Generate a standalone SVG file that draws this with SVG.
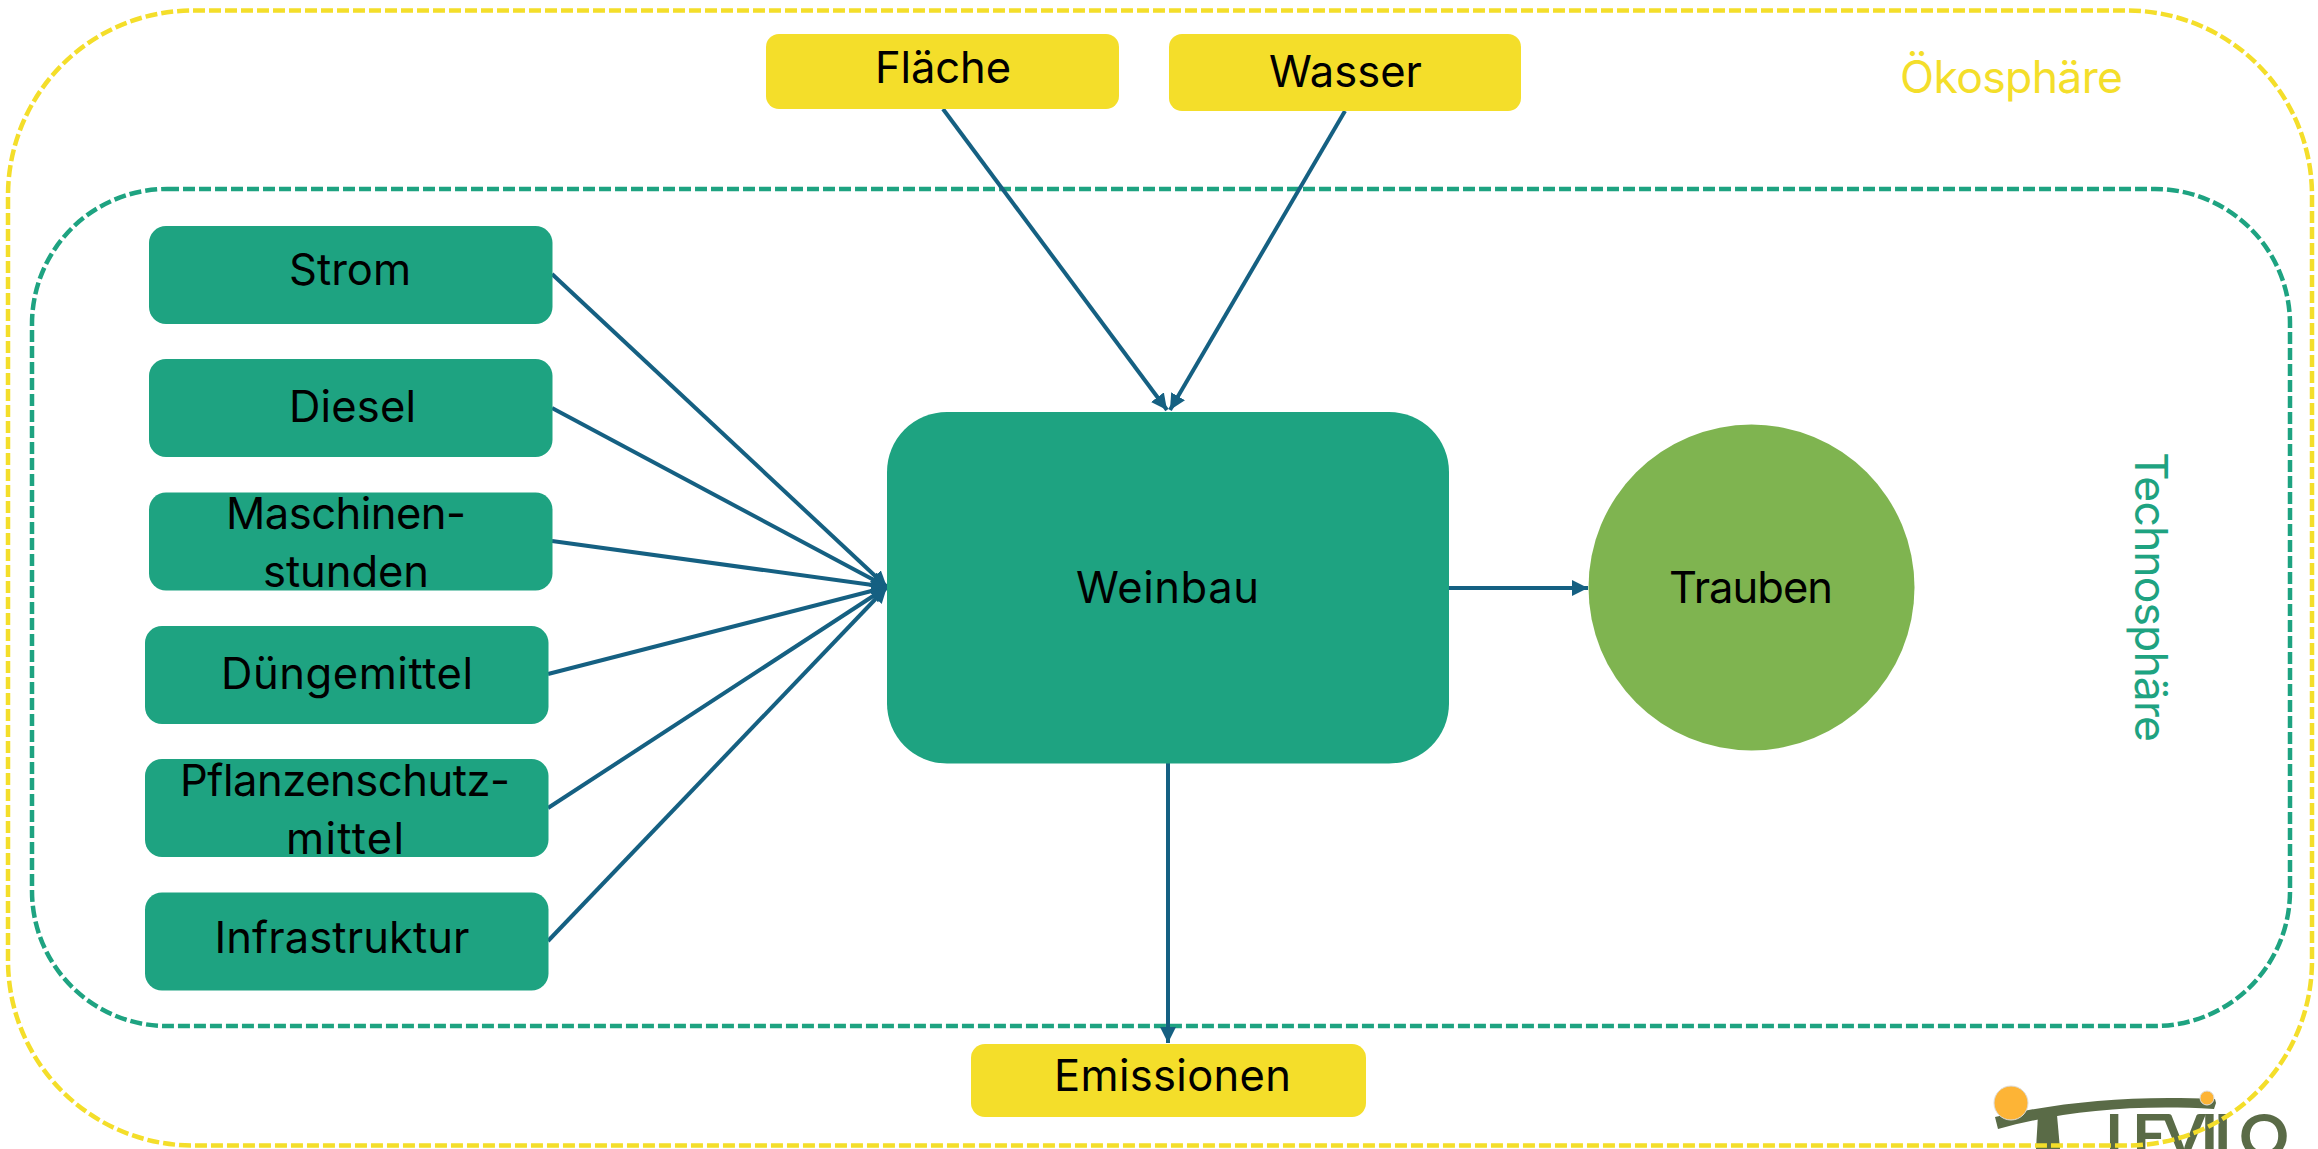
<svg xmlns="http://www.w3.org/2000/svg" width="2318" height="1149" viewBox="0 0 2318 1149">
<style>
text{font-family:"Inter","Liberation Sans",sans-serif;font-size:43.500px;fill:#000;text-anchor:middle}
.g{fill:#1ea381}.y{fill:#f4de2a}
.c{stroke:#156082;stroke-width:4;fill:none}
.b{fill:none;stroke-width:4.500;stroke-dasharray:12 4}
.l{fill:#5a6b47}
</style>
<defs><marker id="a" markerUnits="userSpaceOnUse" markerWidth="18" markerHeight="18" refX="16" refY="8" orient="auto"><path d="M0 0L16 8L0 16Z" fill="#156082"/></marker></defs>
<rect width="2318" height="1149" fill="#fff"/>
<g id="logo"><path class="l" d="M1995 1117C2060 1102 2130 1095 2215 1099L2216 1103L2214 1109C2130 1104 2060 1112 1998 1129Z"/><path class="l" d="M2038 1115L2057 1115L2060 1149L2036 1149Z"/><circle cx="2011" cy="1103" r="17" fill="#fdb436" stroke="#ddd"/><circle cx="2207" cy="1098" r="7" fill="#fdb436" stroke="#ddd"/><text x="2105" y="1157.500" textLength="184" style="font-family:Lato,sans-serif;font-weight:700;font-size:62px;fill:#5a6b47;text-anchor:start">LEVILO</text></g>
<g id="oekosphaere"><rect class="b" x="8" y="10.500" width="2304" height="1135" rx="185" stroke="#f4de2a"/><text x="2011.500" y="93" textLength="223" style="fill:#f4de2a;font-size:44.500px">Ökosphäre</text></g>
<g id="technosphaere"><rect class="b" x="32" y="189" width="2258" height="837" rx="135" stroke="#1ea381"/><text transform="translate(2135 597) rotate(90)" textLength="290" style="fill:#1ea381;font-size:44.500px">Technosphäre</text></g>
<g id="connectors">
<path class="c" marker-end="url(#a)" d="M943 109L1167 410"/>
<path class="c" marker-end="url(#a)" d="M1345 111L1170 410"/>
<path class="c" marker-end="url(#a)" d="M552 274L887 587"/>
<path class="c" marker-end="url(#a)" d="M552 408L887 587"/>
<path class="c" marker-end="url(#a)" d="M552 541L887 587"/>
<path class="c" marker-end="url(#a)" d="M548 674L887 587"/>
<path class="c" marker-end="url(#a)" d="M548 808L887 587"/>
<path class="c" marker-end="url(#a)" d="M548 941L887 587"/>
<path class="c" marker-end="url(#a)" d="M1449 588L1588 588"/>
<path class="c" marker-end="url(#a)" d="M1168 763L1168 1043"/>
</g>
<g id="flaeche"><rect class="y" x="766" y="34" width="353" height="75" rx="13"/><text x="943" y="82.500" textLength="136">Fläche</text></g>
<g id="wasser"><rect class="y" x="1169" y="34" width="352" height="77" rx="13"/><text x="1345.500" y="87" textLength="153">Wasser</text></g>
<g id="strom"><rect class="g" x="149" y="226" width="403.500" height="98" rx="17"/><text x="350" y="285" textLength="122">Strom</text></g>
<g id="diesel"><rect class="g" x="149" y="359" width="403.500" height="98" rx="17"/><text x="352.500" y="422" textLength="127">Diesel</text></g>
<g id="maschinen"><rect class="g" x="149" y="492.500" width="403.500" height="98" rx="17"/><text x="346" y="529" textLength="240">Maschinen-</text><text x="346" y="586.500" textLength="166">stunden</text></g>
<g id="duenge"><rect class="g" x="145" y="626" width="403.500" height="98" rx="17"/><text x="347" y="689" textLength="252">Düngemittel</text></g>
<g id="pflanzen"><rect class="g" x="145" y="759" width="403.500" height="98" rx="17"/><text x="345" y="796" textLength="330">Pflanzenschutz-</text><text x="345" y="854" textLength="118">mittel</text></g>
<g id="infra"><rect class="g" x="145" y="892.500" width="403.500" height="98" rx="17"/><text x="342" y="952.500" textLength="255">Infrastruktur</text></g>
<g id="weinbau"><rect class="g" x="887" y="412" width="562" height="351.500" rx="60"/><text x="1167.500" y="603" textLength="183">Weinbau</text></g>
<g id="trauben"><circle cx="1751.500" cy="587.500" r="163" fill="#7fb450"/><text x="1751" y="603" textLength="164">Trauben</text></g>
<g id="emissionen"><rect class="y" x="971" y="1044" width="395" height="73" rx="14"/><text x="1172.500" y="1091" textLength="237">Emissionen</text></g>
</svg>
